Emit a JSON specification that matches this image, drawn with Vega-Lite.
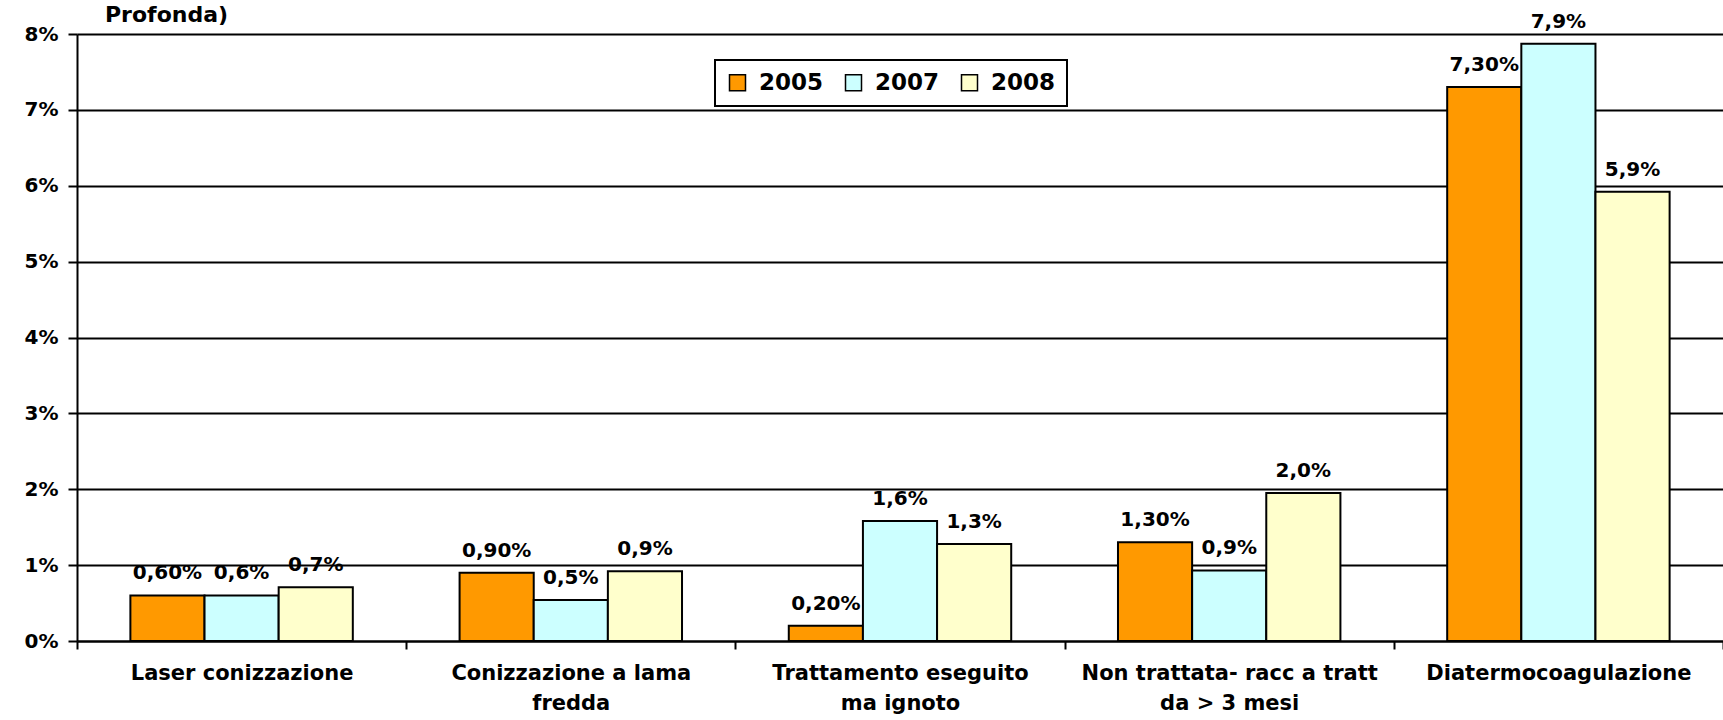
{
  "$schema": "https://vega.github.io/schema/vega-lite/v6.json",
  "autosize": {"type": "none"},
  "width": 1646,
  "height": 607,
  "padding": {"left": 77, "top": 34, "right": 0, "bottom": 79},
  "background": "white",
  "title": {
    "text": "Profonda)",
    "anchor": "start",
    "frame": "group",
    "dx": 28,
    "offset": -32,
    "baseline": "alphabetic",
    "font": "DejaVu Sans",
    "fontWeight": "bold",
    "fontSize": 22,
    "color": "black"
  },
  "data": {
    "values": [
      {"category": "Laser conizzazione", "year": "2005", "value": 0.6, "label": "0,60%"},
      {"category": "Laser conizzazione", "year": "2007", "value": 0.6, "label": "0,6%"},
      {"category": "Laser conizzazione", "year": "2008", "value": 0.71, "label": "0,7%"},
      {"category": "Conizzazione a lama fredda", "year": "2005", "value": 0.9, "label": "0,90%"},
      {"category": "Conizzazione a lama fredda", "year": "2007", "value": 0.54, "label": "0,5%"},
      {"category": "Conizzazione a lama fredda", "year": "2008", "value": 0.92, "label": "0,9%"},
      {"category": "Trattamento eseguito ma ignoto", "year": "2005", "value": 0.2, "label": "0,20%"},
      {"category": "Trattamento eseguito ma ignoto", "year": "2007", "value": 1.58, "label": "1,6%"},
      {"category": "Trattamento eseguito ma ignoto", "year": "2008", "value": 1.28, "label": "1,3%"},
      {"category": "Non trattata- racc a tratt da > 3 mesi", "year": "2005", "value": 1.3, "label": "1,30%"},
      {"category": "Non trattata- racc a tratt da > 3 mesi", "year": "2007", "value": 0.93, "label": "0,9%"},
      {"category": "Non trattata- racc a tratt da > 3 mesi", "year": "2008", "value": 1.95, "label": "2,0%"},
      {"category": "Diatermocoagulazione", "year": "2005", "value": 7.3, "label": "7,30%"},
      {"category": "Diatermocoagulazione", "year": "2007", "value": 7.87, "label": "7,9%"},
      {"category": "Diatermocoagulazione", "year": "2008", "value": 5.92, "label": "5,9%"}
    ]
  },
  "encoding": {
    "x": {
      "field": "category",
      "type": "nominal",
      "sort": null,
      "scale": {"paddingInner": 0, "paddingOuter": 0},
      "axis": {
        "title": null,
        "labelAngle": 0,
        "tickBand": "extent",
        "ticks": true,
        "tickSize": 8,
        "tickWidth": 2,
        "tickColor": "black",
        "domainColor": "black",
        "domainWidth": 2,
        "grid": false,
        "labelFont": "DejaVu Sans",
        "labelFontWeight": "bold",
        "labelFontSize": 21,
        "labelColor": "black",
        "labelPadding": 13,
        "labelLimit": 500,
        "labelLineHeight": 30,
        "labelExpr": "datum.value == 'Conizzazione a lama fredda' ? ['Conizzazione a lama', 'fredda'] : datum.value == 'Trattamento eseguito ma ignoto' ? ['Trattamento eseguito', 'ma ignoto'] : datum.value == 'Non trattata- racc a tratt da > 3 mesi' ? ['Non trattata- racc a tratt', 'da > 3 mesi'] : datum.value"
      }
    },
    "xOffset": {
      "field": "year",
      "type": "nominal",
      "scale": {"paddingInner": 0, "paddingOuter": 0.72}
    },
    "y": {
      "field": "value",
      "type": "quantitative",
      "scale": {"domain": [0, 8], "nice": false},
      "axis": {
        "title": null,
        "values": [0, 1, 2, 3, 4, 5, 6, 7, 8],
        "labelExpr": "datum.value + '%'",
        "grid": true,
        "gridColor": "black",
        "gridWidth": 2,
        "gridOpacity": 1,
        "domainColor": "black",
        "domainWidth": 2,
        "tickColor": "black",
        "tickWidth": 2,
        "tickSize": 9,
        "labelPadding": 10,
        "labelFont": "DejaVu Sans",
        "labelFontWeight": "bold",
        "labelFontSize": 20,
        "labelColor": "black"
      }
    }
  },
  "layer": [
    {
      "mark": {"type": "bar", "stroke": "black", "strokeWidth": 2},
      "encoding": {
        "fill": {
          "field": "year",
          "type": "nominal",
          "scale": {"domain": ["2005", "2007", "2008"], "range": ["#FF9900", "#CCFFFF", "#FFFFCC"]},
          "legend": {
            "title": null,
            "orient": "none",
            "legendX": 638,
            "legendY": 26,
            "direction": "horizontal",
            "symbolType": "square",
            "symbolSize": 256,
            "symbolStrokeColor": "black",
            "symbolStrokeWidth": 1.5,
            "labelFont": "DejaVu Sans",
            "labelFontWeight": "bold",
            "labelFontSize": 23,
            "labelColor": "black",
            "labelOffset": 10,
            "columnPadding": 18,
            "padding": 11,
            "strokeColor": "black",
            "fillColor": "white"
          }
        }
      }
    },
    {
      "mark": {
        "type": "text",
        "baseline": "alphabetic",
        "dy": -16,
        "font": "DejaVu Sans",
        "fontWeight": "bold",
        "fontSize": 20,
        "color": "black"
      },
      "encoding": {
        "text": {"field": "label", "type": "nominal"}
      }
    }
  ],
  "config": {
    "view": {"stroke": null},
    "legend": {"strokeWidth": 2}
  }
}
